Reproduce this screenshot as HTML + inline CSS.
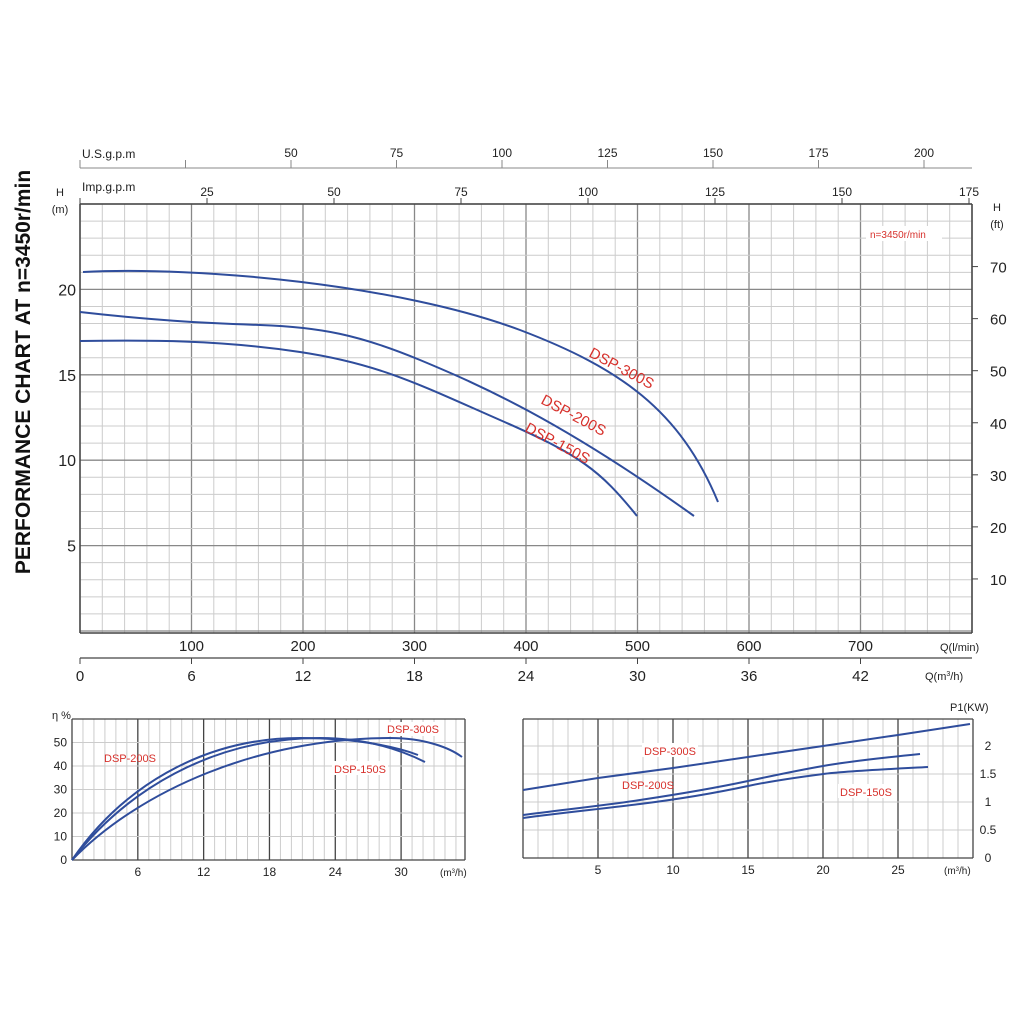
<!DOCTYPE html>
<html><head><meta charset="utf-8"><style>
body{margin:0;background:#fff}
svg{display:block;font-family:"Liberation Sans",sans-serif}
</style></head><body>
<svg id="s" width="1024" height="1024" viewBox="0 0 1024 1024" xmlns="http://www.w3.org/2000/svg">
<rect width="1024" height="1024" fill="#fff"/>
<g id="grid"></g>
<g fill="none" stroke="#2f4d9c" stroke-width="2">
<path d="M83,272 C200,266 400,285 520,330 C620,368 680,410 718,502"/>
<path d="M80,312 C150,320 200,323 260,325 S360,335 420,360 S560,420 694,516"/>
<path d="M80,341 C150,340 220,340 300,352 S420,385 500,420 S600,470 637,516"/>
<path d="M72,860 C120,790 200,738 300,738 C360,738 400,748 418,755"/>
<path d="M72,860 C125,792 210,738 320,738 C370,738 405,752 425,762"/>
<path d="M72,860 C140,790 260,738 390,738 C425,738 450,748 462,757"/>
<path d="M523,790 L598,778 L673,768 L748,757 L823,746 L898,735 L970,724"/>
<path d="M523,815 C560,810 600,806 640,800 S720,787 748,781 S800,770 823,766 S890,757 920,754"/>
<path d="M523,818 C560,813 600,809 640,804 S720,792 748,786 S800,777 823,774 S890,769 928,767"/>
</g>
<g font-size="15" fill="#222">
<text x="30" y="372" transform="rotate(-90 30 372)" text-anchor="middle" font-size="21" font-weight="bold" fill="#111">PERFORMANCE CHART AT n=3450r/min</text>
<text x="82" y="158" font-size="12">U.S.g.p.m</text>
<text x="82" y="191" font-size="12">Imp.g.p.m</text>
<text x="60" y="196" font-size="11" text-anchor="middle">H</text>
<text x="60" y="213" font-size="11" text-anchor="middle">(m)</text>
<text x="997" y="211" font-size="11" text-anchor="middle">H</text>
<text x="997" y="228" font-size="11" text-anchor="middle">(ft)</text>
<text x="940" y="651" font-size="11">Q(l/min)</text>
<text x="925" y="680" font-size="11">Q(m<tspan font-size="7" dy="-4">3</tspan><tspan dy="4">/h)</tspan></text>
<text x="52" y="719" font-size="11">η %</text>
<text x="950" y="711" font-size="11">P1(KW)</text>
<text x="440" y="876" font-size="10">(m<tspan font-size="6" dy="-3">3</tspan><tspan dy="3">/h)</tspan></text>
<text x="944" y="874" font-size="10">(m<tspan font-size="6" dy="-3">3</tspan><tspan dy="3">/h)</tspan></text>
</g>
<g fill="#d7312c" font-size="15">
<rect x="866" y="226" width="76" height="15" fill="#fff"/>
<text x="870" y="238" font-size="10">n=3450r/min</text>
<text x="588" y="356" transform="rotate(28 588 356)">DSP-300S</text>
<text x="540" y="403" transform="rotate(28 540 403)">DSP-200S</text>
<text x="524" y="431" transform="rotate(28 524 431)">DSP-150S</text>
<text x="104" y="762" font-size="11">DSP-200S</text>
<rect x="385" y="722" width="56" height="14" fill="#fff"/>
<text x="387" y="733" font-size="11">DSP-300S</text>
<rect x="332" y="761" width="56" height="14" fill="#fff"/>
<text x="334" y="773" font-size="11">DSP-150S</text>
<rect x="642" y="743" width="56" height="14" fill="#fff"/>
<text x="644" y="755" font-size="11">DSP-300S</text>
<text x="622" y="789" font-size="11">DSP-200S</text>
<rect x="838" y="784" width="56" height="14" fill="#fff"/>
<text x="840" y="796" font-size="11">DSP-150S</text>
</g>
<g id="lbl" fill="#222"></g>
</svg>
<script>
const NS="http://www.w3.org/2000/svg",g=document.getElementById('grid'),L=document.getElementById('lbl');
function ln(x1,y1,x2,y2,c,w){const e=document.createElementNS(NS,'line');e.setAttribute('x1',x1);e.setAttribute('y1',y1);e.setAttribute('x2',x2);e.setAttribute('y2',y2);e.setAttribute('stroke',c);e.setAttribute('stroke-width',w);g.appendChild(e);}
function tx(x,y,s,fs,a){const e=document.createElementNS(NS,'text');e.setAttribute('x',x);e.setAttribute('y',y);e.setAttribute('font-size',fs);e.setAttribute('text-anchor',a||'middle');e.textContent=s;L.appendChild(e);}
const X0=80,X1=972,Y0=204,Yb=631;
for(let i=0;i<=40;i++){const x=X0+i*22.3;ln(x,Y0,x,633,i%5==0?'#888':'#ccc',i%5==0?1.3:1);}
for(let j=0;j<=25;j++){const y=Yb-j*17.08;ln(X0,y,X1,y,j%5==0?'#888':'#ccc',j%5==0?1.3:1);}
ln(X0,Y0,X1,Y0,'#444',1.5);ln(X0,Y0,X0,633,'#444',1.5);ln(X1,Y0,X1,633,'#444',1.5);ln(X0,633,X1,633,'#444',1.5);
[20,15,10,5].forEach(v=>tx(76,Yb-v*17.08+6,v,16,'end'));
for(let f=10;f<=70;f+=10){const y=Yb-f*0.3048*17.08;ln(X1,y,X1+6,y,'#444',1);tx(990,y+6,f,15,'start');}
ln(80,168,972,168,'#888',1);
for(let i=0;i<=8;i++){const x=80+i*105.5;ln(x,160,x,168,'#888',1);if(i>=2)tx(x,157,(i*25),12);}
ln(80,198,80,204,'#444',1);
for(let i=1;i<=7;i++){const x=80+i*127;ln(x,198,x,204,'#444',1);tx(x,196,i*25,12);}
for(let i=1;i<=7;i++)tx(80+i*111.5,651,i*100,15);
ln(80,658,972,658,'#444',1.2);
for(let i=0;i<=7;i++){const x=80+i*111.5;ln(x,658,x,664,'#444',1);tx(x,681,i*6,15);}
const ex0=72,ex1=465,ey0=719,ey1=860,eu=10.97;
for(let i=1;i*eu+ex0<ex1;i++){const x=ex0+i*eu;ln(x,ey0,x,ey1,i%6==0?'#444':'#ccc',i%6==0?1.3:1);if(i%6==0)tx(x,876,i,12);}
for(let j=1;j<=5;j++){const y=ey1-j*23.5;ln(ex0,y,ex1,y,'#ccc',1);tx(67,y+4,j*10,12,'end');}
tx(67,864,0,12,'end');
ln(ex0,ey0,ex1,ey0,'#444',1.3);ln(ex0,ey1,ex1,ey1,'#444',1.3);ln(ex0,ey0,ex0,ey1,'#444',1.3);ln(ex1,ey0,ex1,ey1,'#444',1.3);
const px0=523,px1=973,py0=719,py1=858;
for(let i=1;i*15+px0<px1;i++){const x=px0+i*15;ln(x,py0,x,py1,i%5==0?'#444':'#ccc',i%5==0?1.3:1);if(i%5==0)tx(x,874,i,12);}
for(let j=1;j<=4;j++){const y=py1-j*28;ln(px0,y,px1,y,'#ccc',1);}
['0','0.5','1','1.5','2'].forEach((s,j)=>tx(988,py1-j*28+4,s,12));
ln(px0,py0,px1,py0,'#444',1.3);ln(px0,py1,px1,py1,'#444',1.3);ln(px0,py0,px0,py1,'#444',1.3);ln(px1,py0,px1,py1,'#444',1.3);
</script>
</body></html>
